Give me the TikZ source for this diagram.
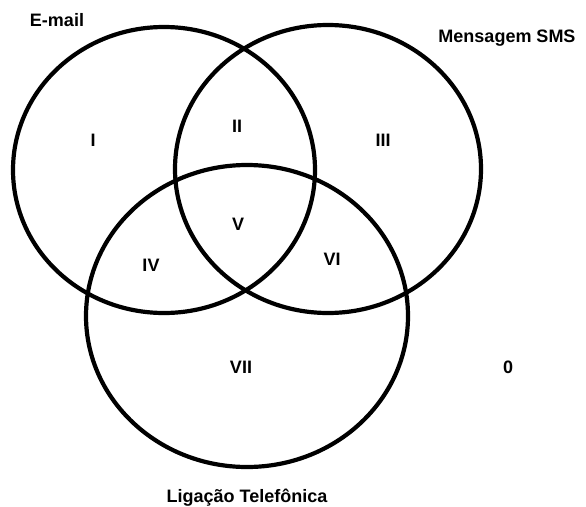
\documentclass[tikz,border=0pt]{standalone}
\usepackage{fontspec}
\setmainfont{Liberation Sans}

\begin{document}
\begin{tikzpicture}[x=1pt, y=-1pt,
        conjunto/.style={line width=4.2pt},
        rotulo/.style={font=\fontsize{18}{21}\selectfont\bfseries, inner sep=0pt}]
        \useasboundingbox (0,0) rectangle (586,506);
        % conjuntos
        \draw[conjunto] (164,170) ellipse [x radius=151, y radius=143];
        \draw[conjunto] (328,169) ellipse [x radius=153, y radius=144];
        \draw[conjunto] (247,316) ellipse [x radius=161, y radius=151];
        % nomes
        \node[rotulo] (email) at (57,20) {E-mail};
        \node[rotulo] (sms) at (507,38) {Mensagem SMS};
        \node[rotulo] (lig) at (247,498) {Ligação Telefônica};
        % regioes
        \node[rotulo] (r1) at (93,140) {I};
        \node[rotulo] (r2) at (237,126) {II};
        \node[rotulo] (r3) at (383,140) {III};
        \node[rotulo] (r4) at (151,265) {IV};
        \node[rotulo] (r5) at (238,224) {V};
        \node[rotulo] (r6) at (332,259) {VI};
        \node[rotulo] (r7) at (241,367) {VII};
        \node[rotulo] (r0) at (508,367) {0};
\end{tikzpicture}
\end{document}
